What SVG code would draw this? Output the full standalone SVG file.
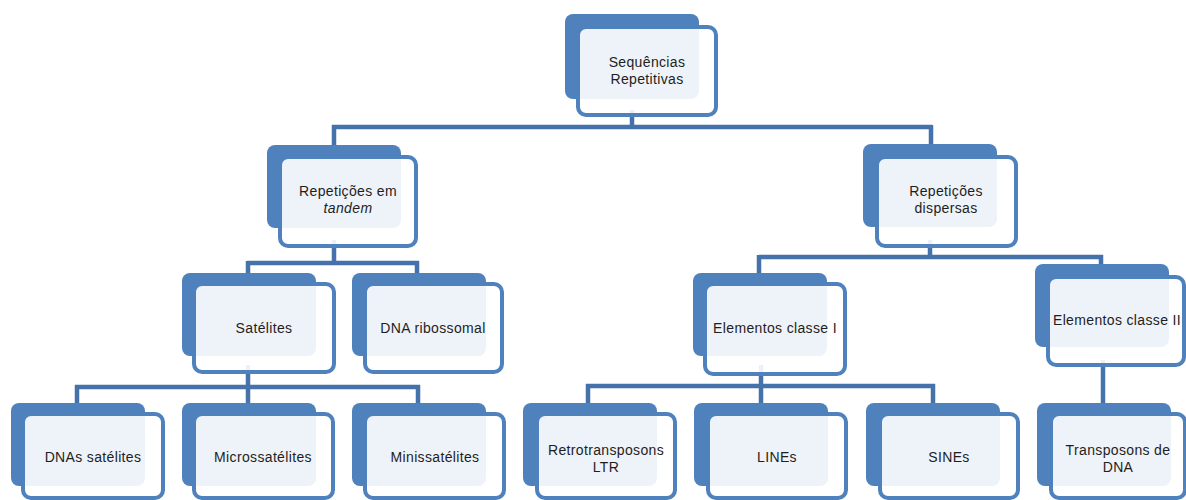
<svg xmlns="http://www.w3.org/2000/svg" width="1186" height="500" viewBox="0 0 1186 500">
<style>
.back{fill:#4F81BD}
.front{fill:#ffffff;fill-opacity:0.9;stroke:#4F81BD;stroke-width:4}
.lbl{font-family:"Liberation Sans",Arial,sans-serif;font-size:14px;letter-spacing:0.35px;fill:#1e1e1e;text-anchor:middle}
.conn{fill:none;stroke:#4672AB;stroke-width:4.5;stroke-linejoin:miter}
</style>
<rect width="1186" height="500" fill="#ffffff"/>
<g id="connectors">
<path class="conn" d="M632,110 V127 M332,127 H932 M334,125 V150 M931,125 V150"/>
<path class="conn" d="M334,240 V263 M247,263 H419 M248,261 V280 M417,261 V280"/>
<path class="conn" d="M930,240 V257 M759,257 H1103 M759,255 V280 M1101,255 V270"/>
<path class="conn" d="M248,365 V387 M75,387 H420 M77,385 V410 M248,385 V410 M418,385 V410"/>
<path class="conn" d="M761,365 V386 M586,386 H935 M588,384 V410 M761,384 V410 M933,384 V410"/>
<path class="conn" d="M1103,360 V410"/>
</g>
<g id="n-sequencias">
<rect class="back" x="565" y="14" width="134" height="85" rx="8"/>
<rect class="front" x="578" y="27" width="138" height="88" rx="8"/>
<text class="lbl" x="647" y="67">Sequências</text>
<text class="lbl" x="647" y="84">Repetitivas</text>
</g>
<g id="n-tandem">
<rect class="back" x="267" y="145" width="134" height="83" rx="8"/>
<rect class="front" x="280" y="157" width="136" height="89" rx="8"/>
<text class="lbl" x="348" y="196">Repetições em</text>
<text class="lbl" x="348" y="213" font-style="italic">tandem</text>
</g>
<g id="n-dispersas">
<rect class="back" x="863" y="144" width="134" height="83" rx="8"/>
<rect class="front" x="877" y="157" width="139" height="89" rx="8"/>
<text class="lbl" x="946" y="196">Repetições</text>
<text class="lbl" x="946" y="213">dispersas</text>
</g>
<g id="n-satelites">
<rect class="back" x="182" y="273" width="134" height="83" rx="8"/>
<rect class="front" x="194" y="284" width="140" height="88" rx="8"/>
<text class="lbl" x="264" y="333">Satélites</text>
</g>
<g id="n-ribossomal">
<rect class="back" x="352" y="273" width="134" height="83" rx="8"/>
<rect class="front" x="365" y="284" width="137" height="88" rx="8"/>
<text class="lbl" x="433" y="333">DNA ribossomal</text>
</g>
<g id="n-classe1">
<rect class="back" x="693" y="273" width="134" height="83" rx="8"/>
<rect class="front" x="705" y="284" width="140" height="90" rx="8"/>
<text class="lbl" x="775" y="333">Elementos classe I</text>
</g>
<g id="n-classe2">
<rect class="back" x="1035" y="264" width="134" height="83" rx="8"/>
<rect class="front" x="1048" y="277" width="136" height="88" rx="8"/>
<text class="lbl" x="1117" y="325">Elementos classe II</text>
</g>
<g id="n-dnas-satelites">
<rect class="back" x="11" y="403" width="134" height="83" rx="8"/>
<rect class="front" x="23" y="414" width="140" height="84" rx="8"/>
<text class="lbl" x="93" y="462">DNAs satélites</text>
</g>
<g id="n-microssatelites">
<rect class="back" x="182" y="403" width="134" height="83" rx="8"/>
<rect class="front" x="194" y="414" width="139" height="84" rx="8"/>
<text class="lbl" x="263" y="462">Microssatélites</text>
</g>
<g id="n-minissatelites">
<rect class="back" x="352" y="403" width="134" height="83" rx="8"/>
<rect class="front" x="365" y="414" width="139" height="84" rx="8"/>
<text class="lbl" x="435" y="462">Minissatélites</text>
</g>
<g id="n-retro">
<rect class="back" x="523" y="403" width="134" height="83" rx="8"/>
<rect class="front" x="537" y="414" width="138" height="84" rx="8"/>
<text class="lbl" x="606" y="455">Retrotransposons</text>
<text class="lbl" x="606" y="472">LTR</text>
</g>
<g id="n-lines">
<rect class="back" x="694" y="403" width="134" height="83" rx="8"/>
<rect class="front" x="708" y="414" width="138" height="84" rx="8"/>
<text class="lbl" x="777" y="462">LINEs</text>
</g>
<g id="n-sines">
<rect class="back" x="866" y="403" width="134" height="83" rx="8"/>
<rect class="front" x="880" y="414" width="138" height="84" rx="8"/>
<text class="lbl" x="949" y="462">SINEs</text>
</g>
<g id="n-transposons">
<rect class="back" x="1037" y="403" width="134" height="83" rx="8"/>
<rect class="front" x="1051" y="414" width="134" height="84" rx="8"/>
<text class="lbl" x="1118" y="455">Transposons de</text>
<text class="lbl" x="1118" y="472">DNA</text>
</g>
</svg>
